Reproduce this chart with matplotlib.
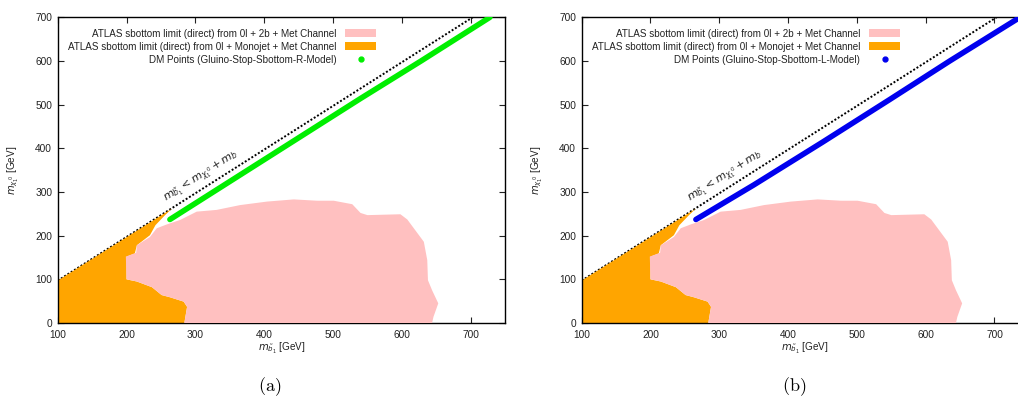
import numpy as np
import matplotlib
matplotlib.use("Agg")
import matplotlib.pyplot as plt
from matplotlib.patches import Patch
from matplotlib.lines import Line2D

plt.rcParams['font.family'] = ['Liberation Sans', 'DejaVu Sans']
plt.rcParams['mathtext.fontset'] = 'dejavusans'

# ATLAS 0l + 2b + MET exclusion (pink)
pink_x = [284, 288, 283, 263, 251, 237, 215, 200, 199, 214, 215, 234, 244, 259,
          278, 302, 331, 365, 404, 443, 477, 501, 528, 540, 550, 598, 608, 632,
          637, 638, 644, 653, 646, 644]
pink_y = [0, 37, 49, 59, 64, 82, 95, 100, 152, 161, 178, 197, 217, 226,
          236, 255, 259, 270, 278, 283, 280, 280, 272, 252, 247, 249, 237, 186,
          144, 98, 75, 45, 14, 0]

# ATLAS monojet + MET exclusion (orange)
orange_x = [100, 100, 266, 256, 242, 234, 215, 212, 200, 200, 215, 237, 251, 263, 283, 288, 284]
orange_y = [0, 97, 262, 247, 224, 201, 178, 159, 152, 100, 95, 82, 64, 59, 49, 37, 0]

# kinematic boundary m_sb = m_chi + m_b
kin_x = [100, 703]
kin_y = [97, 700]

# DM points
r_model_x = [263, 400, 540, 628, 728]
r_model_y = [237, 374, 514, 600, 700]
l_model_x = [266, 350, 450, 548, 635, 734]
l_model_y = [237, 316, 414, 512, 600, 697]

xticks = [100, 200, 300, 400, 500, 600, 700]
yticks = [0, 100, 200, 300, 400, 500, 600, 700]

PINK = '#ffc0c0'
ORANGE = '#ffa500'

fig = plt.figure(figsize=(10.18, 4.03), dpi=100)
ax_a = fig.add_axes([0.0567, 0.1985, 0.4394, 0.7586])
ax_b = fig.add_axes([0.5714, 0.1985, 0.4393, 0.7586])

panels = [(ax_a, r_model_x, r_model_y, '#00ee00', 'DM Points (Gluino-Stop-Sbottom-R-Model)', '(a)', 0.265),
          (ax_b, l_model_x, l_model_y, '#0000ee', 'DM Points (Gluino-Stop-Sbottom-L-Model)', '(b)', 0.78)]

for ax, dx, dy, col, lab, cap, capx in panels:
    ax.plot(kin_x, kin_y, color='black', lw=1.4, ls=(0, (1.0, 1.0)), zorder=1)
    ax.fill(orange_x, orange_y, color=ORANGE, lw=0, zorder=2)
    ax.fill(pink_x, pink_y, color=PINK, lw=0, zorder=3)
    ax.plot(dx, dy, color=col, lw=4, solid_capstyle='round', zorder=4)

    ax.text(262, 268, r'$m_{\tilde{b}_1} < m_{\chi_1^{\ 0}} + m_b$', fontsize=8,
            rotation=45, transform_rotates_text=True, rotation_mode='anchor',
            ha='left', va='bottom', color='#222222', zorder=5)

    ax.set_xlim(100, 750)
    ax.set_ylim(0, 700)
    ax.set_xticks(xticks)
    ax.set_yticks(yticks)
    ax.tick_params(direction='in', top=True, right=True, length=4, width=0.8,
                   labelsize=7.3, colors='#222222', pad=4)
    ax.tick_params(axis='x', pad=5)
    for s in ax.spines.values():
        s.set_linewidth(1.0)

    ax.set_xlabel(r'$m_{\tilde{b}_1}$ [GeV]', fontsize=7.2, color='#222222')
    ax.set_ylabel(r'$m_{\chi_1^{\ 0}}$ [GeV]', fontsize=7.2, color='#222222')
    ax.xaxis.set_label_coords(0.5, -0.06)
    ax.yaxis.set_label_coords(-0.082, 0.5)

    handles = [Patch(color=PINK, lw=0),
               Patch(color=ORANGE, lw=0),
               Line2D([], [], color=col, marker='o', ls='none', markersize=3.5)]
    labels = ['ATLAS sbottom limit (direct) from 0l + 2b + Met Channel',
              'ATLAS sbottom limit (direct) from 0l + Monojet + Met Channel',
              lab]
    leg = ax.legend(handles, labels, loc='upper right', bbox_to_anchor=(0.712, 0.963),
                    frameon=False, markerfirst=False, fontsize=7.15, handlelength=3.1,
                    handleheight=0.75, handletextpad=0.9, labelspacing=0.3,
                    borderpad=0, borderaxespad=0, numpoints=1)
    for t in leg.get_texts():
        t.set_color('#222222')

    fig.text(capx, 0.04, r'$\mathrm{' + cap + '}$', fontsize=13, math_fontfamily='cm',
             ha='center', va='center')

fig.savefig('out.png', dpi=100)
